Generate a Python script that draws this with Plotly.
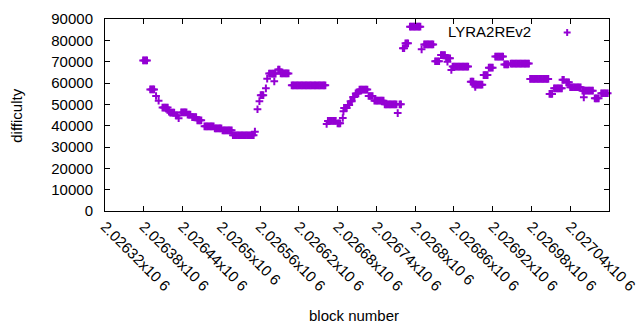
import plotly.graph_objects as go

# ---- data (block number, difficulty) ----
seg_blocks = [
    [2026379, 2026381, 2026383, 2026385],
    [2026390, 2026392, 2026394, 2026396],
    [2026399],
    [2026403],
    [2026409, 2026411, 2026413, 2026415, 2026417],
    [2026419],
    [2026421, 2026423, 2026425, 2026427],
    [2026430, 2026432],
    [2026434],
    [2026438, 2026440, 2026442, 2026444, 2026446],
    [2026448, 2026450, 2026452],
    [2026455, 2026457, 2026459, 2026461],
    [2026463, 2026465, 2026467, 2026469],
    [2026474, 2026476, 2026478, 2026480, 2026482, 2026484, 2026486, 2026488],
    [2026490, 2026492, 2026494, 2026496, 2026498, 2026500],
    [2026502, 2026504, 2026506, 2026508, 2026510, 2026512, 2026514, 2026516],
    [2026518, 2026520, 2026522, 2026524, 2026526, 2026528, 2026530, 2026532, 2026534,
     2026536, 2026538, 2026540, 2026542, 2026544, 2026546, 2026548, 2026550],
    [2026552],
    [2026556],
    [2026559],
    [2026561, 2026563, 2026565],
    [2026569],
    [2026571],
    [2026574, 2026576, 2026578, 2026580, 2026582, 2026584],
    [2026582],
    [2026588, 2026590],
    [2026592, 2026594, 2026596, 2026598, 2026600, 2026602, 2026604],
    [2026609, 2026611, 2026613, 2026615, 2026617, 2026619, 2026621, 2026623, 2026625,
     2026627, 2026629, 2026631, 2026633, 2026635, 2026637, 2026639, 2026641, 2026643,
     2026645, 2026647, 2026649, 2026651, 2026653, 2026655, 2026657, 2026659, 2026661],
    [2026663],
    [2026665, 2026667, 2026669, 2026671, 2026673, 2026675, 2026677],
    [2026680, 2026682, 2026684],
    [2026688],
    [2026689],
    [2026690, 2026692, 2026694],
    [2026696, 2026698],
    [2026700, 2026702],
    [2026704, 2026706],
    [2026708, 2026710, 2026712],
    [2026714, 2026716, 2026718, 2026720, 2026722, 2026724, 2026726],
    [2026728, 2026730, 2026732, 2026734],
    [2026737, 2026739, 2026741, 2026743, 2026745, 2026747, 2026749, 2026751],
    [2026753, 2026755, 2026757, 2026759, 2026761, 2026763, 2026765, 2026767, 2026769, 2026771],
    [2026773],
    [2026776, 2026778],
    [2026781, 2026783],
    [2026785, 2026787, 2026789],
    [2026792, 2026794, 2026796, 2026798, 2026800, 2026802, 2026804, 2026806, 2026808],
    [2026810],
    [2026814, 2026816, 2026818, 2026820, 2026822, 2026824, 2026826, 2026828],
    [2026831, 2026833, 2026835, 2026837],
    [2026840, 2026842, 2026844, 2026846],
    [2026848, 2026850, 2026852, 2026854],
    [2026850],
    [2026856],
    [2026858, 2026860, 2026862, 2026864, 2026866, 2026868, 2026870, 2026872, 2026874,
     2026876, 2026878, 2026880, 2026882],
    [2026886, 2026888, 2026890],
    [2026892, 2026894, 2026896, 2026898, 2026900, 2026902, 2026904],
    [2026893],
    [2026906, 2026908, 2026910, 2026912],
    [2026914, 2026916, 2026918, 2026920],
    [2026924, 2026926, 2026928, 2026930, 2026932, 2026934, 2026936],
    [2026938, 2026940, 2026942, 2026944],
    [2026948, 2026950, 2026952, 2026954, 2026956, 2026958, 2026960, 2026962, 2026964,
     2026966, 2026968, 2026970, 2026972, 2026974, 2026976],
    [2026978, 2026980, 2026982, 2026984, 2026986, 2026988, 2026990, 2026992, 2026994,
     2026996, 2026998, 2027000, 2027002, 2027004, 2027006],
    [2027008, 2027010, 2027012],
    [2027015, 2027017, 2027019, 2027021, 2027023, 2027025, 2027027],
    [2027028, 2027030],
    [2027034, 2027036, 2027038],
    [2027040, 2027042, 2027044, 2027046, 2027048, 2027050, 2027052, 2027054, 2027056],
    [2027059, 2027061, 2027063, 2027065, 2027067, 2027069, 2027071, 2027073, 2027075],
    [2027061],
    [2027078, 2027080, 2027082, 2027084],
    [2027088, 2027090, 2027092, 2027094, 2027096, 2027098],
]
seg_difficulty = [
    70600, 57000, 53900, 51700, 48500, 46600, 46100, 44800, 43500, 46200,
    45200, 44000, 42500, 39700, 38700, 37800, 35500, 37200, 47700, 51500,
    54300, 57500, 62000, 64400, 60800, 66300, 64500, 58900, 40800, 42200,
    41100, 43600, 46700, 48300, 49700, 51500, 53400, 55100, 56900, 53900,
    51700, 50000, 45900, 50000, 76300, 78600, 86400, 75800, 78100, 70200,
    73100, 71600, 70000, 66100, 67700, 60600, 59200, 58200, 63700, 67200,
    72400, 68700, 69100, 61900, 54900, 57500, 61500, 60300, 58000, 56400,
    53300, 52800, 55200,
]

x_tick_values = [2026320, 2026380, 2026440, 2026500, 2026560, 2026620, 2026680,
                 2026740, 2026800, 2026860, 2026920, 2026980, 2027040, 2027100]
x_tick_labels = ["2.02632x10", "2.02638x10", "2.02644x10", "2.0265x10", "2.02656x10",
                 "2.02662x10", "2.02668x10", "2.02674x10", "2.0268x10", "2.02686x10",
                 "2.02692x10", "2.02698x10", "2.02704x10", "2.0271x10"]
y_tick_values = [0, 10000, 20000, 30000, 40000, 50000, 60000, 70000, 80000, 90000]
series_name = "LYRA2REv2"

blocks = []
difficulty = []
for bl, d in zip(seg_blocks, seg_difficulty):
    for b in bl:
        blocks.append(b)
        difficulty.append(d)

PURPLE = "#9400d3"
FONT = "Liberation Sans"

fig = go.Figure()
fig.add_trace(go.Scatter(
    x=blocks, y=difficulty, mode="markers", name=series_name,
    marker=dict(symbol="cross-thin", size=5.5, color=PURPLE,
                line=dict(width=2, color=PURPLE)),
    cliponaxis=False, showlegend=False, hoverinfo="skip",
))

axis_common = dict(showline=True, linecolor="black", linewidth=1, mirror="ticks",
                   ticks="inside", ticklen=5, tickcolor="black", tickwidth=1,
                   showgrid=False, zeroline=False, automargin=False,
                   tickfont=dict(family=FONT, size=15, color="black"))

fig.update_layout(
    width=640, height=330,
    margin=dict(l=105, r=31, t=19, b=119),
    plot_bgcolor="white", paper_bgcolor="white",
    font=dict(family=FONT, size=15, color="black"),
    xaxis=dict(range=[2026320, 2027100], tickvals=x_tick_values,
               ticktext=[t + " 6" for t in x_tick_labels],
               tickangle=45, ticklabelstandoff=0, **axis_common),
    yaxis=dict(range=[0, 90000], tickvals=y_tick_values,
               ticktext=[str(v) for v in y_tick_values],
               ticklabelstandoff=8, **axis_common),
    annotations=[
        dict(text="block number", xref="paper", yref="paper", x=0.494, y=-0.542,
             showarrow=False, xanchor="center", yanchor="middle",
             font=dict(family=FONT, size=15)),
        dict(text="difficulty", xref="paper", yref="paper", x=-0.175, y=0.495,
             showarrow=False, xanchor="center", yanchor="middle", textangle=-90,
             font=dict(family=FONT, size=15)),
        dict(text=series_name, xref="paper", yref="paper", x=0.763, y=0.934,
             showarrow=False, xanchor="center", yanchor="middle",
             font=dict(family=FONT, size=15)),
    ],
    shapes=[
        dict(type="line", xref="paper", yref="paper", x0=0.917 - 0.0069, x1=0.917 + 0.0069,
             y0=0.9297, y1=0.9297, line=dict(color=PURPLE, width=2)),
        dict(type="line", xref="paper", yref="paper", x0=0.917, x1=0.917,
             y0=0.9297 - 0.018, y1=0.9297 + 0.018, line=dict(color=PURPLE, width=2)),
    ],
)

fig.write_html("out.html", config={"displayModeBar": False},
               post_script="document.body.style.margin='0';")
